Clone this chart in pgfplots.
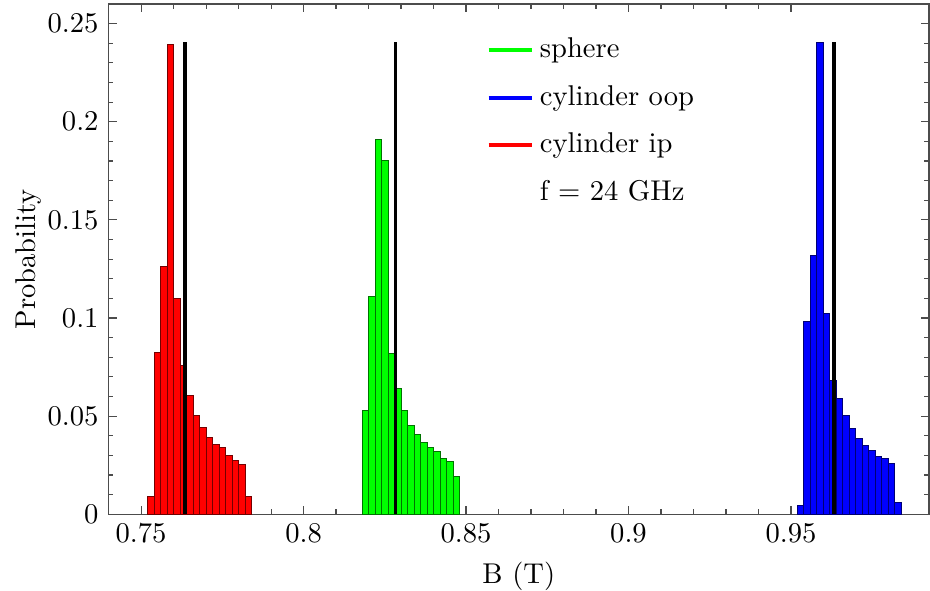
\documentclass[border=0pt]{standalone}
\usepackage{pgfplots}
\pgfplotsset{compat=1.18}
\definecolor{hred}{RGB}{255,0,0}
\definecolor{hgreen}{RGB}{0,255,0}
\definecolor{hblue}{RGB}{0,0,255}
\begin{document}
\begin{tikzpicture}
\begin{axis}[
  scale only axis, width=287pt, height=178.5pt,
  xmin=0.74, xmax=0.9925, ymin=0, ymax=0.26,
  xtick={0.75,0.8,0.85,0.9,0.95}, minor x tick num=4,
  ytick={0,0.05,0.1,0.15,0.2,0.25}, minor y tick num=4,
  tick align=inside, xtick pos=both, ytick pos=both,
  major tick length=2.8pt, minor tick length=1.7pt,
  axis line style={black!70}, every tick/.style={black!70, line width=0.4pt},
  xlabel={B (T)}, ylabel={Probability},
  ylabel style={yshift=-4.5pt},
  scaled ticks=false,
  xticklabel style={/pgf/number format/fixed, /pgf/number format/precision=2},
  yticklabel style={/pgf/number format/fixed, /pgf/number format/precision=2},
  legend style={at={(rel axis cs:0.4496,0.957)}, anchor=north west, draw=none, fill=none,
    row sep=4.2pt, font=\normalsize},
  legend cell align=left,
  legend image code/.code={\draw[#1] (0cm,0cm) -- (0.4cm,0cm); \path (0.4cm,0cm) -- ++(3.85pt,0pt);},
]
\addlegendimage{hgreen, line width=1.4pt}
\addlegendentry{sphere}
\addlegendimage{hblue, line width=1.4pt}
\addlegendentry{cylinder oop}
\addlegendimage{hred, line width=1.4pt}
\addlegendentry{cylinder ip}
\addlegendimage{empty legend}
\addlegendentry{f = 24 GHz}

% red: cylinder ip
\addplot[forget plot, ybar, bar width=0.002, bar shift=0pt, fill=hred, draw=hred!45!black, line width=0.35pt]
coordinates {
(0.753,0.0088) (0.755,0.0822) (0.757,0.1263) (0.759,0.2394)
(0.761,0.1100) (0.763,0.0759) (0.765,0.0605) (0.767,0.0504)
(0.769,0.0440) (0.771,0.0391) (0.773,0.0355) (0.775,0.0340)
(0.777,0.0301) (0.779,0.0272) (0.781,0.0256) (0.783,0.0092)
};
% green: sphere
\addplot[forget plot, ybar, bar width=0.002, bar shift=0pt, fill=hgreen, draw=hgreen!45!black, line width=0.35pt]
coordinates {
(0.819,0.0530) (0.821,0.1107) (0.823,0.1909) (0.825,0.1803)
(0.827,0.0819) (0.829,0.0640) (0.831,0.0530) (0.833,0.0453)
(0.835,0.0408) (0.837,0.0365) (0.839,0.0340) (0.841,0.0319)
(0.843,0.0284) (0.845,0.0267) (0.847,0.0194)
};
% blue: cylinder oop
\addplot[forget plot, ybar, bar width=0.002, bar shift=0pt, fill=hblue, draw=hblue!45!black, line width=0.35pt]
coordinates {
(0.953,0.0046) (0.955,0.0980) (0.957,0.1318) (0.959,0.2403)
(0.961,0.1022) (0.963,0.0683) (0.965,0.0589) (0.967,0.0504)
(0.969,0.0436) (0.971,0.0385) (0.973,0.0351) (0.975,0.0323)
(0.977,0.0292) (0.979,0.0284) (0.981,0.0258) (0.983,0.0061)
};
% black reference lines
\addplot[forget plot, black, line width=1.3pt] coordinates {(0.7636,0) (0.7636,0.2405)};
\addplot[forget plot, black, line width=1.3pt] coordinates {(0.8283,0) (0.8283,0.2405)};
\addplot[forget plot, black, line width=1.3pt] coordinates {(0.9633,0) (0.9633,0.2405)};
\end{axis}
\pgfresetboundingbox
\path (current axis.south west) ++(-38pt,-26.6pt) coordinate (bbsw);
\path (current axis.north east) ++(0.35pt,1.4pt) coordinate (bbne);
\path[use as bounding box] (bbsw) rectangle (bbne);
\end{tikzpicture}
\end{document}
